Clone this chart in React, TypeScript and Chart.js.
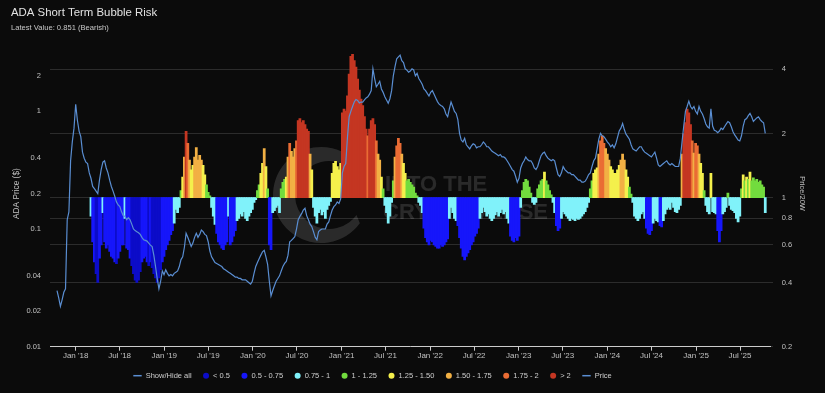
import React, { useEffect, useRef } from 'react';
import { Chart, registerables } from 'chart.js';

Chart.register(...registerables);

// ---- data -------------------------------------------------------------
const DAY_MS = 86400000;
const WEEK_MS = 7 * DAY_MS;
const WEEK0 = Date.UTC(2017, 9, 16); // first weekly sample
const RATIO_START_WEEK = 20; // Price/20W starts 20 weeks after first price

// ADA price ($), weekly from 2017-10-16
const PRICE = [
  0.030, 0.026, 0.022, 0.025, 0.029, 0.031, 0.12, 0.14, 0.38, 0.55,
  0.72, 1.15, 0.84, 0.68, 0.61, 0.45, 0.40, 0.37, 0.36, 0.30,
  0.27, 0.23, 0.22, 0.21, 0.20, 0.26, 0.32, 0.37, 0.38, 0.33,
  0.30, 0.26, 0.23, 0.21, 0.19, 0.17, 0.16, 0.155, 0.14, 0.13,
  0.128, 0.12, 0.125, 0.12, 0.11, 0.10, 0.097, 0.095, 0.093, 0.09,
  0.085, 0.081, 0.08, 0.079, 0.076, 0.073, 0.071, 0.06, 0.048, 0.038,
  0.031, 0.036, 0.044, 0.041, 0.045, 0.042, 0.040, 0.041, 0.040, 0.042,
  0.043, 0.044, 0.048, 0.055, 0.058, 0.07, 0.092, 0.085, 0.078, 0.071,
  0.076, 0.085, 0.092, 0.085, 0.09, 0.098, 0.095, 0.09, 0.088, 0.078,
  0.065, 0.058, 0.055, 0.052, 0.051, 0.05, 0.049, 0.048, 0.046, 0.045,
  0.044, 0.043, 0.042, 0.041, 0.040, 0.039, 0.039, 0.038, 0.038, 0.037,
  0.037, 0.037, 0.036, 0.035, 0.034, 0.036, 0.042, 0.048, 0.052, 0.056,
  0.060, 0.064, 0.066, 0.058, 0.05, 0.036, 0.027, 0.03, 0.033, 0.036,
  0.038, 0.040, 0.044, 0.048, 0.051, 0.053, 0.06, 0.078, 0.08, 0.083,
  0.086, 0.1, 0.12, 0.128, 0.135, 0.145, 0.15, 0.13, 0.12, 0.11,
  0.105, 0.095, 0.085, 0.081, 0.095, 0.098, 0.10, 0.10, 0.1, 0.11,
  0.115, 0.13, 0.145, 0.155, 0.16, 0.17, 0.165, 0.18, 0.30, 0.34,
  0.36, 0.6, 0.9, 1.0, 1.1, 1.2, 1.26, 1.24, 1.18, 1.2,
  1.2, 1.25, 1.3, 1.33, 1.4, 1.5, 2.3, 1.9, 1.62, 1.7,
  1.8, 1.55, 1.45, 1.33, 1.25, 1.17, 1.28, 1.5, 2.0, 2.4,
  2.8, 2.9, 3.0, 2.7, 2.6, 2.3, 2.24, 2.15, 2.2, 2.3,
  2.25, 2.0, 2.1, 1.9, 1.8, 1.7, 1.55, 1.5, 1.42, 1.35,
  1.45, 1.5, 1.4, 1.3, 1.21, 1.15, 1.12, 1.1, 1.05, 0.95,
  0.9, 1.05, 1.2, 1.1, 1.0, 0.96, 0.85, 0.65, 0.57, 0.55,
  0.59, 0.52, 0.5, 0.48, 0.51, 0.53, 0.52, 0.49, 0.50, 0.5,
  0.52, 0.55, 0.53, 0.5, 0.5, 0.48, 0.46, 0.45, 0.44, 0.43,
  0.42, 0.43, 0.41, 0.41, 0.40, 0.38, 0.36, 0.34, 0.32, 0.31,
  0.28, 0.25, 0.27, 0.33, 0.36, 0.38, 0.41, 0.39, 0.38, 0.38,
  0.36, 0.33, 0.32, 0.34, 0.38, 0.42, 0.44, 0.45, 0.42, 0.40,
  0.39, 0.38, 0.39, 0.38, 0.33, 0.29, 0.28, 0.30, 0.34, 0.32,
  0.31, 0.30, 0.30, 0.29, 0.29, 0.28, 0.27, 0.26, 0.26, 0.25,
  0.25, 0.255, 0.27, 0.29, 0.30, 0.34, 0.38, 0.40, 0.48, 0.58,
  0.65, 0.62, 0.61, 0.58, 0.55, 0.53, 0.50, 0.52, 0.49, 0.53,
  0.6, 0.68, 0.72, 0.79, 0.7, 0.64, 0.61, 0.58, 0.52, 0.48,
  0.47, 0.46, 0.48, 0.5, 0.50, 0.47, 0.45, 0.44, 0.43, 0.42,
  0.41, 0.43, 0.45, 0.40, 0.35, 0.34, 0.35, 0.36, 0.37, 0.38,
  0.36, 0.35, 0.36, 0.35, 0.34, 0.34, 0.34, 0.40, 0.55, 0.75,
  1.0, 1.1, 1.22, 1.1, 1.05, 1.1, 1.0, 0.95, 1.1, 1.0,
  0.95, 0.87, 0.78, 0.74, 0.72, 1.05, 0.75, 0.69, 0.68, 0.66,
  0.68, 0.72, 0.7, 0.74, 0.78, 0.82, 0.8, 0.74, 0.67, 0.63,
  0.60, 0.57, 0.56, 0.62, 0.75, 0.85, 0.87, 0.92, 0.96, 0.9,
  0.82, 0.85, 0.88, 0.9, 0.85, 0.82, 0.8, 0.65,
];

// Price / 20-week average, weekly from week 20 (2018-03-05)
const RATIO = [
  0.82, 0.62, 0.5, 0.44, 0.40, 0.52, 0.6, 0.85, 0.62, 0.58,
  0.6, 0.56, 0.53, 0.52, 0.5, 0.49, 0.52, 0.56, 0.6, 0.6,
  0.8, 0.58, 0.57, 0.52, 0.48, 0.44, 0.41, 0.40, 0.41, 0.45,
  0.5, 0.52, 0.53, 0.5, 0.48, 0.5, 0.47, 0.44, 0.42, 0.40,
  0.42, 0.46, 0.5, 0.53, 0.57, 0.6, 0.63, 0.67, 0.7, 0.76,
  0.88, 0.85, 0.9, 1.08, 1.25, 1.55, 2.05, 1.8, 1.5, 1.35,
  1.42, 1.55, 1.72, 1.5, 1.58, 1.5, 1.42, 1.28, 1.15, 1.06,
  1.02, 0.9, 0.82, 0.75, 0.68, 0.62, 0.6, 0.58, 0.57, 0.6,
  0.62, 0.82, 0.6, 0.62, 0.66, 0.7, 0.78, 0.8, 0.84, 0.82,
  0.86, 0.8, 0.78, 0.82, 0.85, 0.88, 0.95, 0.98, 1.08, 1.15,
  1.3, 1.45, 1.7, 1.4, 1.1, 0.6, 0.57, 0.85, 0.87, 0.9,
  0.92, 0.85, 1.1, 1.18, 1.22, 1.25, 1.55, 1.8, 1.65, 1.55,
  1.7, 1.85, 2.3, 2.35, 2.25, 2.3, 2.2, 2.1, 2.05, 1.6,
  1.35, 0.9, 0.82, 0.76, 0.85, 0.88, 0.83, 0.86, 0.8, 0.88,
  0.92, 0.96, 1.3, 1.45, 1.48, 1.4, 1.35, 1.45, 2.5, 2.6,
  2.55, 3.0, 3.8, 4.6, 4.7, 4.4, 4.1, 3.6, 3.2, 2.9,
  2.7, 2.4, 2.1, 1.95, 2.1, 2.3, 2.35, 2.2, 1.85, 1.6,
  1.5, 1.25, 1.1, 0.92, 0.85, 0.76, 0.82, 0.95, 1.2, 1.55,
  1.75, 1.9, 1.8, 1.6, 1.45, 1.3, 1.2, 1.22, 1.18, 1.15,
  1.12, 1.05, 1.02, 0.95, 0.92, 0.85, 0.72, 0.65, 0.62, 0.6,
  0.63, 0.62, 0.6, 0.59, 0.58, 0.58, 0.6, 0.59, 0.6, 0.62,
  0.64, 0.8, 0.9, 0.85, 0.8, 0.78, 0.74, 0.65, 0.58, 0.53,
  0.51, 0.53, 0.55, 0.57, 0.6, 0.62, 0.66, 0.68, 0.72, 0.8,
  0.85, 0.9, 0.86, 0.82, 0.84, 0.8, 0.78, 0.8, 0.83, 0.86,
  0.82, 0.85, 0.88, 0.84, 0.86, 0.8, 0.76, 0.66, 0.63, 0.62,
  0.65, 0.63, 0.66, 0.9, 1.08, 1.18, 1.22, 1.2, 1.12, 1.05,
  0.95, 0.93, 0.95, 1.1, 1.15, 1.2, 1.22, 1.32, 1.2, 1.15,
  1.08, 1.03, 0.95, 0.85, 0.74, 0.7, 0.72, 0.8, 0.86, 0.84,
  0.82, 0.8, 0.78, 0.8, 0.79, 0.78, 0.8, 0.79, 0.8, 0.82,
  0.84, 0.86, 0.9, 0.95, 1.1, 1.2, 1.3, 1.35, 1.38, 1.6,
  1.85, 1.95, 1.8, 1.7, 1.6, 1.5, 1.4, 1.35, 1.3, 1.3,
  1.35, 1.42, 1.5, 1.6, 1.5, 1.35, 1.25, 1.12, 1.04, 0.95,
  0.82, 0.8, 0.78, 0.8, 0.84, 0.86, 0.8, 0.72, 0.68, 0.67,
  0.7, 0.76, 0.8, 0.78, 0.77, 0.74, 0.73, 0.78, 0.84, 0.88,
  0.9, 0.88, 0.95, 0.9, 0.86, 0.85, 0.88, 0.92, 1.6, 2.0,
  2.25, 2.6, 2.5, 2.2, 1.85, 1.62, 1.8, 1.75, 1.6, 1.45,
  1.3, 1.08, 0.92, 0.86, 0.84, 1.3, 0.86, 0.85, 0.84, 0.7,
  0.62, 0.7, 0.84, 0.86, 0.9, 1.05, 0.92, 0.88, 0.87, 0.85,
  0.8, 0.77, 0.82, 1.1, 1.28, 1.2, 1.25, 1.22, 1.32, 1.2,
  1.24, 1.2, 1.22, 1.18, 1.2, 1.15, 1.12, 0.851,
];

const BIN_EDGES = [0.5, 0.75, 1, 1.25, 1.5, 1.75, 2];
const BIN_LABELS = ['< 0.5', '0.5 - 0.75', '0.75 - 1', '1 - 1.25', '1.25 - 1.50', '1.50 - 1.75', '1.75 - 2', '> 2'];
const BIN_COLORS = ['#0c0cc8', '#1616fa', '#80f2fa', '#72dc3e', '#f4f04c', '#f2b044', '#ea6c34', '#c43622'];
const PRICE_COLOR = '#5a8ed2';

const X_TICK_DATES = [
  Date.UTC(2018, 0, 1), Date.UTC(2018, 6, 1), Date.UTC(2019, 0, 1), Date.UTC(2019, 6, 1),
  Date.UTC(2020, 0, 1), Date.UTC(2020, 6, 1), Date.UTC(2021, 0, 1), Date.UTC(2021, 6, 1),
  Date.UTC(2022, 0, 1), Date.UTC(2022, 6, 1), Date.UTC(2023, 0, 1), Date.UTC(2023, 6, 1),
  Date.UTC(2024, 0, 1), Date.UTC(2024, 6, 1), Date.UTC(2025, 0, 1), Date.UTC(2025, 6, 1),
];
const X_TICK_LABELS = [
  "Jan '18", "Jul '18", "Jan '19", "Jul '19", "Jan '20", "Jul '20", "Jan '21", "Jul '21",
  "Jan '22", "Jul '22", "Jan '23", "Jul '23", "Jan '24", "Jul '24", "Jan '25", "Jul '25",
];
const LEFT_TICKS = [0.01, 0.02, 0.04, 0.1, 0.2, 0.4, 1, 2];
const RIGHT_TICKS = [0.2, 0.4, 0.6, 0.8, 1, 2, 4];

const X_MIN = Date.UTC(2018, 0, 1) - 105.9 * DAY_MS;
const X_MAX = Date.UTC(2018, 0, 1) + 2861.5 * DAY_MS;

const TITLE = 'ADA Short Term Bubble Risk';
const SUBTITLE = 'Latest Value: 0.851 (Bearish)';
const FONT = '"Liberation Sans", Arial, sans-serif';
const BG = '#0b0b0b';

function binIndex(v: number): number {
  let k = 0;
  while (k < BIN_EDGES.length && v >= BIN_EDGES[k]) k++;
  return k;
}

const decorPlugin = {
  id: 'decor',
  beforeDraw(chart: any) {
    const { ctx, width, height } = chart;
    ctx.save();
    ctx.fillStyle = BG;
    ctx.fillRect(0, 0, width, height);
    ctx.restore();
  },
  beforeDatasetsDraw(chart: any) {
    const { ctx, chartArea } = chart;
    ctx.save();
    ctx.beginPath();
    ctx.rect(chartArea.left, chartArea.top, chartArea.right - chartArea.left, chartArea.bottom - chartArea.top);
    ctx.clip();
    ctx.fillStyle = 'rgba(255,255,255,0.13)';
    ctx.beginPath();
    ctx.arc(321, 195, 48, 0.2 * Math.PI, 1.8 * Math.PI, false);
    ctx.arc(329, 195, 34, 1.8 * Math.PI, 0.2 * Math.PI, true);
    ctx.closePath();
    ctx.fill();
    ctx.font = `bold 22px ${FONT}`;
    ctx.textBaseline = 'middle';
    ctx.textAlign = 'left';
    ctx.fillText('INTO THE', 385, 185);
    ctx.fillText('CRYPTOVERSE', 383, 213);
    ctx.restore();
  },
  afterDraw(chart: any) {
    const { ctx } = chart;
    ctx.save();
    ctx.textAlign = 'left';
    ctx.textBaseline = 'middle';
    ctx.fillStyle = '#e2e2e2';
    ctx.font = `11.4px ${FONT}`;
    ctx.fillText(TITLE, 11, 12.7);
    ctx.fillStyle = '#c8c8c8';
    ctx.font = `7.6px ${FONT}`;
    ctx.fillText(SUBTITLE, 11, 28.3);

    // legend
    const items = [
      { label: 'Show/Hide all', kind: 'line', color: PRICE_COLOR },
      ...BIN_LABELS.map((l, k) => ({ label: l, kind: 'dot', color: BIN_COLORS[k] })),
      { label: 'Price', kind: 'line', color: PRICE_COLOR },
    ];
    ctx.font = `7.5px ${FONT}`;
    let x = 133.3;
    const y = 375.7;
    for (const it of items) {
      let mw: number;
      if (it.kind === 'line') {
        mw = 8.4;
        ctx.strokeStyle = it.color;
        ctx.lineWidth = 1.5;
        ctx.beginPath();
        ctx.moveTo(x, y);
        ctx.lineTo(x + mw, y);
        ctx.stroke();
      } else {
        mw = 6;
        ctx.fillStyle = it.color;
        ctx.beginPath();
        ctx.arc(x + 3, y, 3, 0, Math.PI * 2);
        ctx.fill();
      }
      ctx.fillStyle = '#cfcfcf';
      const tx = x + mw + 4;
      ctx.fillText(it.label, tx, y);
      x = tx + ctx.measureText(it.label).width + 11.5;
    }
    ctx.restore();
  },
};

export default function App() {
  const ref = useRef<HTMLCanvasElement>(null);

  useEffect(() => {
    document.body.style.margin = '0';
    document.body.style.background = BG;
    const canvas = ref.current;
    if (!canvas) return;

    const priceData = PRICE.map((p, i) => ({ x: WEEK0 + i * WEEK_MS, y: p }));
    const ratioData = RATIO.map((r, k) => ({ x: WEEK0 + (k + RATIO_START_WEEK) * WEEK_MS, y: [1, r] }));

    const chart = new Chart(canvas, {
      type: 'bar',
      data: {
        datasets: [
          {
            type: 'line',
            label: 'Price',
            data: priceData as any,
            xAxisID: 'x',
            yAxisID: 'y',
            borderColor: PRICE_COLOR,
            borderWidth: 1.2,
            pointRadius: 0,
            tension: 0,
            order: 0,
          } as any,
          {
            type: 'bar',
            label: 'Price/20W',
            data: ratioData as any,
            xAxisID: 'x',
            yAxisID: 'y2',
            backgroundColor: (c: any) => BIN_COLORS[binIndex(RATIO[c.dataIndex] ?? 1)],
            borderWidth: 0,
            barPercentage: 1,
            categoryPercentage: 1,
            barThickness: 2.1,
            grouped: false,
            order: 1,
          } as any,
        ],
      },
      options: {
        responsive: false,
        devicePixelRatio: 1,
        animation: false,
        events: [],
        font: { family: FONT } as any,
        color: '#c0c0c0',
        layout: { padding: { top: 40.5, bottom: 32.3, left: 0, right: 0 } },
        plugins: {
          legend: { display: false },
          tooltip: { enabled: false },
          title: { display: false },
        },
        scales: {
          x: {
            type: 'linear',
            position: 'bottom',
            min: X_MIN,
            max: X_MAX,
            offset: false,
            afterFit: (s: any) => { s.height = 14; },
            afterBuildTicks: (s: any) => { s.ticks = X_TICK_DATES.map((v) => ({ value: v })); },
            grid: { display: true, drawOnChartArea: false, drawTicks: true, tickLength: 4, color: '#cccccc', offset: false },
            border: { display: true, color: '#cccccc', width: 1 },
            ticks: {
              autoSkip: false,
              maxRotation: 0,
              padding: 0,
              color: '#c0c0c0',
              font: { family: FONT, size: 8 },
              callback: (v: any) => {
                const k = X_TICK_DATES.indexOf(Number(v));
                return k >= 0 ? X_TICK_LABELS[k] : '';
              },
            },
          },
          y: {
            type: 'logarithmic',
            position: 'left',
            min: 0.01,
            max: 4,
            afterFit: (s: any) => { s.width = 50; },
            afterBuildTicks: (s: any) => { s.ticks = LEFT_TICKS.map((v) => ({ value: v })); },
            grid: { display: false, drawTicks: false },
            border: { display: false },
            ticks: {
              padding: 9,
              color: '#c0c0c0',
              font: { family: FONT, size: 7.5 },
              callback: (v: any) => String(v),
            },
            title: {
              display: true,
              text: 'ADA Price ($)',
              color: '#c0c0c0',
              font: { family: FONT, size: 8.3 },
              padding: { top: 11.7, bottom: 0 },
            },
          },
          y2: {
            type: 'logarithmic',
            position: 'right',
            min: 0.2,
            max: 5.46,
            afterFit: (s: any) => { s.width = 55; },
            afterBuildTicks: (s: any) => { s.ticks = RIGHT_TICKS.map((v) => ({ value: v })); },
            grid: { display: true, drawOnChartArea: true, drawTicks: true, tickLength: 3, color: '#2c2c2c', lineWidth: 1 },
            border: { display: false },
            ticks: {
              padding: 8.7,
              color: '#c0c0c0',
              font: { family: FONT, size: 7.5 },
              callback: (v: any) => String(v),
            },
            title: {
              display: true,
              text: 'Price/20W',
              color: '#c0c0c0',
              font: { family: FONT, size: 7.5 },
              padding: { top: 18.5, bottom: 0 },
            },
          },
        },
      },
      plugins: [decorPlugin],
    });

    return () => chart.destroy();
  }, []);

  return (
    <div style={{ position: 'absolute', left: 0, top: 0, width: 825, height: 393 }}>
      <canvas ref={ref} width={825} height={393} style={{ display: 'block', width: 825, height: 393 }} />
    </div>
  );
}
